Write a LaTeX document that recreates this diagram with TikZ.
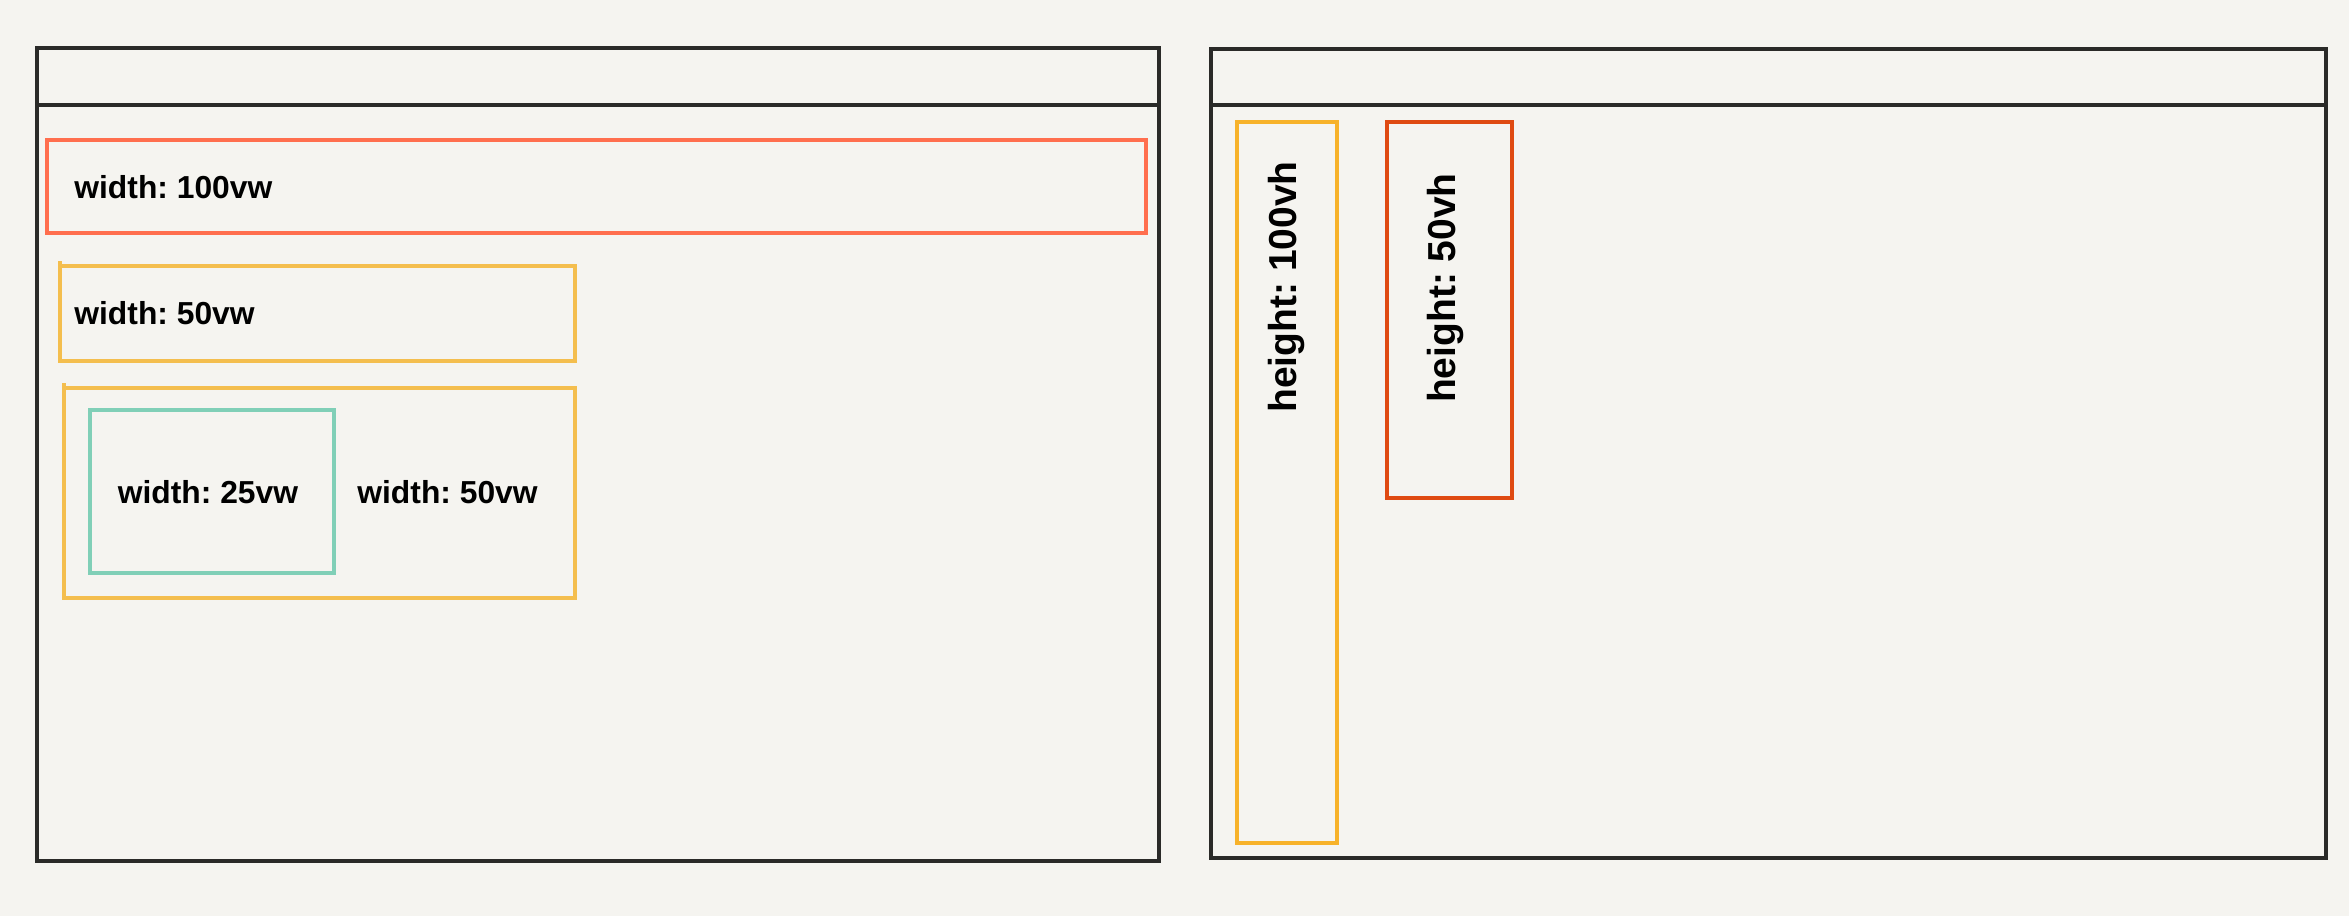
\documentclass[tikz,border=0pt]{standalone}
\usepackage{fontspec}
\setmainfont{Liberation Sans}
\frenchspacing
\definecolor{bg}{HTML}{F5F4F0}
\definecolor{frame}{HTML}{2A2A28}
\definecolor{coral}{HTML}{FF6E4E}
\definecolor{sun}{HTML}{F4BE4E}
\definecolor{mint}{HTML}{80CFB7}
\definecolor{amber}{HTML}{F7B22A}
\definecolor{rust}{HTML}{DF4A12}
\tikzset{
  framebox/.style={draw=frame, line width=2pt},
  colbox/.style={line width=1.9pt},
  wlabel/.style={font=\bfseries\fontsize{15.9}{18}\selectfont, text=black, inner sep=0pt},
  hlabel/.style={font=\bfseries\fontsize{19.5}{22}\selectfont, text=black, inner sep=0pt, rotate=90},
}
\begin{document}
\begin{tikzpicture}[x=0.5pt,y=-0.5pt]
\fill[bg] (0,0) rectangle (2349,916);
\useasboundingbox (0,0) rectangle (2349,916);
% left window
\draw[framebox] (37,48) rectangle (1159,861);
\draw[framebox] (37,105) -- (1159,105);
\draw[colbox, draw=coral] (47,140) rectangle (1146,233);
\node[wlabel, anchor=west] (w100) at (74,187) {width: 100vw};
\draw[colbox, draw=sun] (60,266) rectangle (575,361);
\draw[colbox, draw=sun] (60,266) -- (60,261);
\node[wlabel, anchor=west] (w50a) at (74,313) {width: 50vw};
\draw[colbox, draw=sun] (64,388) rectangle (575,598);
\draw[colbox, draw=sun] (64,388) -- (64,383);
\draw[colbox, draw=mint] (90,410) rectangle (334,573);
\node[wlabel] (w25) at (208,492) {width: 25vw};
\node[wlabel, anchor=west] (w50b) at (357,492) {width: 50vw};
% right window
\draw[framebox] (1211,49) rectangle (2326,858);
\draw[framebox] (1211,105) -- (2326,105);
\draw[colbox, draw=amber] (1237,122) rectangle (1337,843);
\node[hlabel] (h100) at (1286,287) {height: 100vh};
\draw[colbox, draw=rust] (1387,122) rectangle (1512,498);
\node[hlabel] (h50) at (1445,288) {height: 50vh};
\end{tikzpicture}
\end{document}
